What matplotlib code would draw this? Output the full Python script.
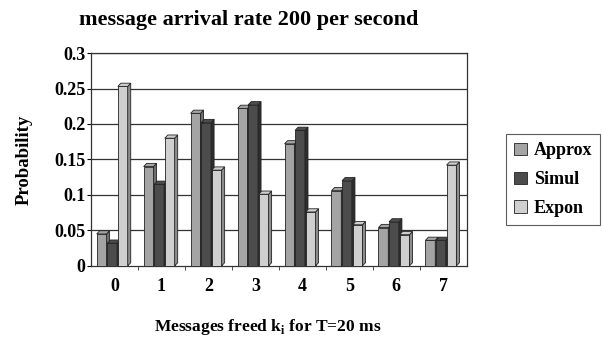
import matplotlib.pyplot as plt
import numpy as np
from matplotlib.patches import Polygon

plt.rcParams['font.family'] = ['Liberation Serif', 'DejaVu Serif']
plt.rcParams['font.weight'] = 'bold'
plt.rcParams['axes.labelweight'] = 'bold'
plt.rcParams['mathtext.fontset'] = 'custom'
plt.rcParams['mathtext.bf'] = 'Liberation Serif:bold'

# Probability of k messages freed in T=20 ms, arrival rate 200/s
categories = ['0', '1', '2', '3', '4', '5', '6', '7']
approx = [0.045, 0.140, 0.215, 0.222, 0.172, 0.106, 0.054, 0.036]
simul = [0.032, 0.115, 0.202, 0.227, 0.191, 0.120, 0.062, 0.036]
expon = [0.253, 0.180, 0.135, 0.101, 0.076, 0.058, 0.044, 0.142]

series = [('Approx', approx, '#a4a4a4', '#6e6e6e'),
          ('Simul', simul, '#4c4c4c', '#2e2e2e'),
          ('Expon', expon, '#cfcfcf', '#8c8c8c')]

fig = plt.figure(figsize=(6.03, 3.4), dpi=100)
ax = fig.add_axes([0.151, 0.218, 0.623, 0.626])

x = np.arange(len(categories))
width = 0.21
depth_x = 0.065   # fake 3d depth, in category units
depth_y = 0.0045  # fake 3d depth, in probability units

for i, (name, vals, face, side) in enumerate(series):
    offs = x - 0.38 + i * (width + 0.015)
    ax.bar(offs, vals, width, align='edge', color=face, edgecolor='#222222',
           linewidth=0.6, label=name, zorder=3)
    for x0, h in zip(offs, vals):
        x1 = x0 + width
        ax.add_patch(Polygon([(x1, 0), (x1, h), (x1 + depth_x, h + depth_y),
                              (x1 + depth_x, depth_y)], closed=True,
                             facecolor=side, edgecolor='#222222', lw=0.6, zorder=3))
        ax.add_patch(Polygon([(x0, h), (x1, h), (x1 + depth_x, h + depth_y),
                              (x0 + depth_x, h + depth_y)], closed=True,
                             facecolor=face, edgecolor='#222222', lw=0.6, zorder=3))

# gridlines on the back wall
for yv in np.arange(0.05, 0.301, 0.05):
    ax.axhline(yv, color='#333333', lw=0.9, zorder=1)

ax.set_xlim(-0.5, 7.5)
ax.set_ylim(0, 0.3)
ax.set_yticks([0, 0.05, 0.1, 0.15, 0.2, 0.25, 0.3])
ax.set_yticklabels(['0', '0.05', '0.1', '0.15', '0.2', '0.25', '0.3'], fontsize=13)
ax.set_xticks(x)
ax.set_xticklabels(categories, fontsize=13)
ax.set_xticks(x[:-1] + 0.5, minor=True)
ax.tick_params(axis='x', which='major', length=0, pad=9)
ax.tick_params(axis='x', which='minor', length=3, color='#333333')
ax.tick_params(axis='y', length=3, pad=1)
for s in ax.spines.values():
    s.set_color('#333333')
    s.set_linewidth(0.9)

ax.set_ylabel('Probability', fontsize=13.5)
ax.yaxis.set_label_coords(-0.155, 0.5)
ax.set_xlabel(r'Messages freed k$_\mathbf{i}$ for T=20 ms', fontsize=12.5)
ax.xaxis.set_label_coords(0.47, -0.24)
fig.text(0.413, 0.94, 'message arrival rate 200 per second', ha='center',
         va='center', fontsize=16, fontweight='bold')

leg = ax.legend(loc='center left', bbox_to_anchor=(1.08, 0.405), fontsize=13,
                frameon=True, fancybox=False, edgecolor='#333333',
                handlelength=0.7, handleheight=0.7, handletextpad=0.4,
                labelspacing=0.65, borderpad=0.45)
leg.get_frame().set_linewidth(0.8)

fig.savefig('out.png', dpi=100, facecolor='white')
